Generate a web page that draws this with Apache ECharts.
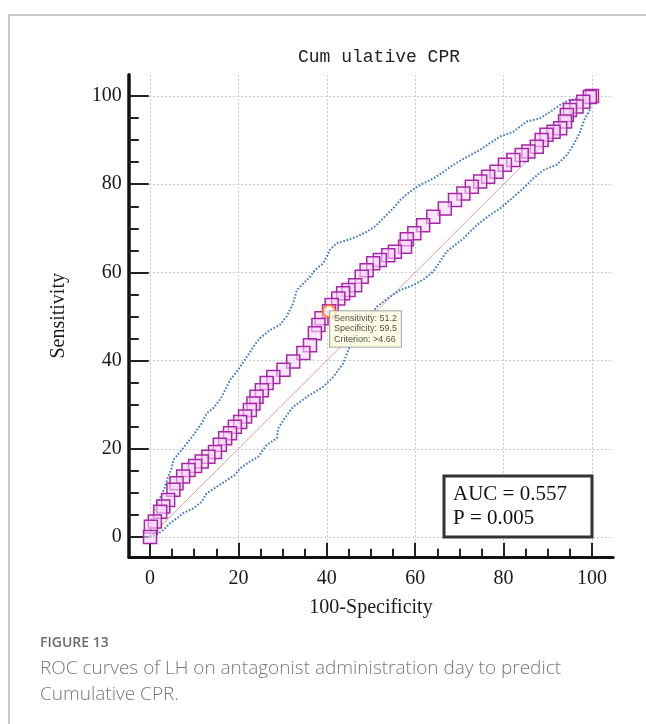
<!DOCTYPE html>
<html>
<head>
<meta charset="utf-8">
<script src="https://cdn.jsdelivr.net/npm/echarts@6/dist/echarts.min.js"></script>
<style>
html,body{margin:0;padding:0;background:#fff;}
#frame{position:absolute;left:8px;top:14px;width:650px;height:720px;border-left:2px solid #c8c8c8;border-top:2px solid #c8c8c8;box-sizing:border-box;}
#chart{position:absolute;left:0;top:0;width:646px;height:724px;}
</style>
</head>
<body>
<div id="frame"></div>
<div id="chart"></div>
<script>
// ---- data ----
const xMajor = [0, 20, 40, 60, 80, 100];
const xMinor = [5, 10, 15, 25, 30, 35, 45, 50, 55, 65, 70, 75, 85, 90, 95];
const yMajor = [0, 20, 40, 60, 80, 100];
const yMinor = [5, 10, 15, 25, 30, 35, 45, 50, 55, 65, 70, 75, 85, 90, 95];

// ROC curve points [100-Specificity, Sensitivity]
const rocPoints = [
  [0,0],[0.2,2.3],[1.1,3.5],[2.3,5.7],[3.0,6.9],[4.1,8.4],[5.3,10.7],[6.0,12.2],[7.5,13.7],[8.7,15.2],
  [10.2,16.1],[11.7,17.1],[13.2,18.2],[14.7,19.3],[15.8,20.9],[17.0,22.4],[18.1,23.5],[19.2,25.0],[20.4,26.1],
  [21.5,27.3],[22.6,28.8],[23.4,30.3],[24.1,31.8],[25.3,33.3],[26.4,34.9],[27.9,36.3],[30.2,37.9],[32.4,39.8],
  [34.7,41.7],[36.2,43.5],[37.3,46.2],[38.1,48.1],[38.8,49.6],[40.5,51.2],[41.1,52.6],[42.6,54.1],[43.7,55.3],
  [44.9,56.0],[46.4,57.1],[47.9,59.0],[49.0,60.5],[50.5,62.1],[52.0,62.8],[53.9,63.9],[55.4,64.7],[57.7,65.8],
  [58.1,67.5],[59.8,68.9],[61.8,70.7],[64.1,72.6],[66.7,74.5],[69.0,76.4],[70.9,77.9],[72.8,79.4],[74.7,80.6],
  [76.5,81.7],[78.4,82.8],[80.3,84.4],[82.2,85.5],[84.1,86.6],[85.6,87.4],[87.5,88.5],[88.6,90.0],[89.7,91.2],
  [91.3,91.9],[92.8,92.7],[93.9,94.2],[94.3,95.7],[95.0,96.8],[96.5,97.6],[98.0,98.7],[99.5,99.8],[100,100]
];
// upper 95% confidence bound
const upperBand = [
  [0,0],[0.4,3.9],[1.1,6.1],[2.3,8.8],[3.4,11.4],[4.1,13.7],[4.9,15.6],[5.3,17.5],[6.8,19.3],[8.3,21.2],
  [9.8,23.1],[11.7,25.8],[12.8,28.0],[14.3,29.2],[15.8,31.1],[17.0,33.3],[18.1,35.6],[20,38],[22,41],[24,44],
  [24.9,45.1],[27.1,46.9],[29.4,48.1],[30.9,50.0],[32.4,53.0],[33.2,56.0],[34.7,57.5],[36.2,59.0],[37.3,60.5],
  [39.2,62.1],[40.0,63.6],[40.7,65.1],[42.2,66.6],[44.5,67.3],[46.8,68.1],[49.0,69.2],[51,70.5],[53,72.5],
  [55,74.5],[56.6,76.4],[58.8,78.3],[61.1,79.8],[64.1,81.3],[66.4,82.8],[68.6,84.4],[71.7,86.2],[74.7,87.8],
  [76.9,89.3],[79.2,90.8],[82.2,91.9],[85.2,94.2],[88.2,94.9],[90.5,96.4],[92.8,98.0],[95.0,99.1],[97.3,99.5],
  [99.5,100],[100,100]
];
// lower 95% confidence bound
const lowerBand = [
  [0,0],[1.5,0.5],[3.0,1.6],[4.5,3.1],[6.0,4.2],[7.5,5.4],[9.8,6.5],[11.7,8.0],[12.8,9.9],[15.1,11.4],
  [17.4,12.9],[19.2,14.1],[20.4,15.6],[22.6,17.1],[24.5,18.2],[26.4,20.9],[28.7,22.4],[29.0,24.6],[30.5,27],
  [32.4,29.5],[35.5,31.8],[39.2,34.1],[41.5,36.3],[43.7,39.4],[45.2,43.2],[46.8,46.9],[49.8,50.0],[51.3,52.2],
  [54.3,54.5],[56.6,56.0],[59.6,57.1],[62,58.5],[64.1,60.2],[67.1,64.7],[70.9,67.7],[73.9,70.7],[76.9,73.0],
  [79.2,74.5],[81.4,76.4],[84.5,79.1],[86.7,81.3],[89.0,83.2],[92.0,84.4],[94.3,86.6],[95.8,88.9],[97.3,91.9],
  [98.4,94.9],[99.5,96.8],[100,100]
];
const diagonal = [[0,0],[100,100]];
// optimal criterion
const critSensitivity = 51.2;
const critSpecificity = 59.5;
const critCriterion = '>4.66';
const aucText = ['AUC = 0.557', 'P = 0.005'];
const titleText = 'Cum ulative CPR';
const captionHead = 'FIGURE 13';
const captionLines = ['ROC curves of LH on antagonist administration day to predict', 'Cumulative CPR.'];

// ---- chart ----
const serif = '"Liberation Serif", "Times New Roman", serif';
const chart = echarts.init(document.getElementById('chart'), null, {renderer: 'canvas'});

const XMIN = -4.8, XMAX = 104.8, YMIN = -4.5, YMAX = 104.8;

const majorAxisCommon = (isX) => ({
  type: 'value',
  min: isX ? XMIN : YMIN,
  max: isX ? XMAX : YMAX,
  position: isX ? 'bottom' : 'left',
  axisLine: {show: true, onZero: false, lineStyle: {color: '#111', width: isX ? 3 : 3.5}},
  axisTick: {show: true, inside: true, length: isX ? 14 : 20, customValues: isX ? xMajor : yMajor,
             lineStyle: {color: '#222', width: 2}},
  axisLabel: {show: true, customValues: isX ? xMajor : yMajor, margin: isX ? 12 : 7,
              fontFamily: serif, fontSize: 20, color: '#1a1a1a'},
  splitLine: {show: true, lineStyle: {color: '#c8c8c8', width: 1, type: [2, 2]}},
  name: isX ? '100-Specificity' : 'Sensitivity',
  nameLocation: 'middle',
  nameGap: isX ? 41 : 60,
  nameTextStyle: {fontFamily: serif, fontSize: 20, color: '#1a1a1a'}
});
const minorAxisCommon = (isX) => ({
  type: 'value',
  min: isX ? XMIN : YMIN,
  max: isX ? XMAX : YMAX,
  position: isX ? 'bottom' : 'left',
  axisLine: {show: false, onZero: false},
  axisTick: {show: true, inside: true, length: isX ? 8 : 10, customValues: isX ? xMinor : yMinor,
             lineStyle: {color: '#222', width: 2}},
  axisLabel: {show: false},
  splitLine: {show: false}
});

const option = {
  animation: false,
  grid: {left: 150 + XMIN * 4.42, top: 96 - (YMAX - 100) * 4.41,
         width: (XMAX - XMIN) * 4.42, height: (YMAX - YMIN) * 4.41, containLabel: false},
  xAxis: [majorAxisCommon(true), minorAxisCommon(true)],
  yAxis: [majorAxisCommon(false), minorAxisCommon(false)],
  series: [
    {type: 'line', data: diagonal, symbol: 'none', lineStyle: {color: '#e29a9a', width: 1}, z: 2, silent: true},
    {type: 'line', data: upperBand, symbol: 'none', lineStyle: {color: '#3a78c4', width: 2, type: [1.6, 1.8]}, z: 3, silent: true},
    {type: 'line', data: lowerBand, symbol: 'none', lineStyle: {color: '#3a78c4', width: 2, type: [1.6, 1.8]}, z: 3, silent: true},
    {type: 'scatter', data: rocPoints.slice().reverse(), symbol: 'rect', symbolSize: 13,
     itemStyle: {color: 'rgba(246,214,246,0.6)', borderColor: '#a826a8', borderWidth: 1.5, opacity: 1}, z: 4, silent: true},
    {type: 'scatter', data: [[100 - critSpecificity, critSensitivity]], symbol: 'circle', symbolSize: 12,
     itemStyle: {color: '#fff', borderColor: '#ff7a00', borderWidth: 2}, z: 6, silent: true,
     label: {show: true, position: [8, 7],
       formatter: 'Sensitivity: ' + critSensitivity + '\nSpecificity: ' + critSpecificity + '\nCriterion: ' + critCriterion,
       fontFamily: '"Liberation Sans", Arial, sans-serif', fontSize: 9, lineHeight: 10.5, color: '#222',
       backgroundColor: '#ffffe1', borderColor: '#9a9a9a', borderWidth: 1, padding: [2, 4, 2, 4]}}
  ],
  graphic: [
    {type: 'text', z: 100, style: {text: titleText, x: 379, y: 57, textAlign: 'center', textVerticalAlign: 'middle',
      font: '18px "Liberation Mono", monospace', fill: '#222'}},
    {type: 'rect', z: 100, shape: {x: 444, y: 476, width: 148, height: 61},
      style: {fill: '#fff', stroke: '#333', lineWidth: 3}},
    {type: 'text', z: 101, style: {text: aucText[0], x: 453, y: 494, textVerticalAlign: 'middle',
      font: '21px ' + serif, fill: '#111'}},
    {type: 'text', z: 101, style: {text: aucText[1], x: 453, y: 518, textVerticalAlign: 'middle',
      font: '21px ' + serif, fill: '#111'}},
    {type: 'text', z: 100, style: {text: captionHead, x: 40, y: 643, textVerticalAlign: 'middle',
      font: '600 14px "Open Sans", sans-serif', fill: '#6b6b6b'}},
    {type: 'text', z: 100, style: {text: captionLines[0], x: 40, y: 669, textVerticalAlign: 'middle',
      font: '300 19px "Open Sans", sans-serif', fill: '#777'}},
    {type: 'text', z: 100, style: {text: captionLines[1], x: 40, y: 695, textVerticalAlign: 'middle',
      font: '300 19px "Open Sans", sans-serif', fill: '#777'}}
  ]
};
chart.setOption(option);
</script>
</body>
</html>
